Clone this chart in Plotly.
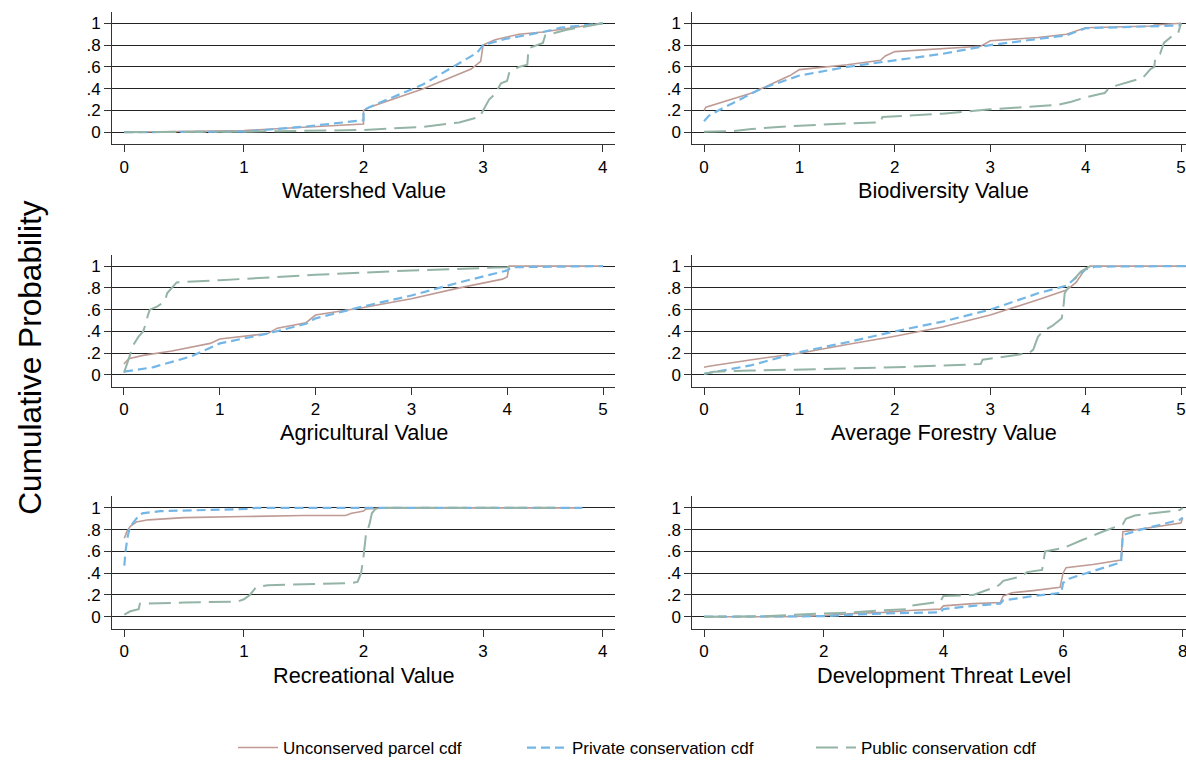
import plotly.graph_objects as go

# ---------------- data ----------------
series_names = ["Unconserved parcel cdf", "Private conservation cdf", "Public conservation cdf"]
panel_titles = ["Watershed Value", "Biodiversity Value", "Agricultural Value",
                "Average Forestry Value", "Recreational Value", "Development Threat Level"]
y_tick_vals = [0, 0.2, 0.4, 0.6, 0.8, 1]
y_tick_text = ["0", ".2", ".4", ".6", ".8", "1"]
x_ticks_0_4 = [0, 1, 2, 3, 4]
x_ticks_0_5 = [0, 1, 2, 3, 4, 5]
x_ticks_0_8 = [0, 2, 4, 6, 8]

# Watershed
ws_unc_x = [0, 1.0, 1.5, 2.0, 2.0, 2.05, 2.5, 2.9, 2.98, 3.0, 3.1, 3.3, 3.5, 3.7, 4.0]
ws_unc_y = [0, 0.015, 0.045, 0.075, 0.2, 0.23, 0.40, 0.58, 0.65, 0.80, 0.85, 0.90, 0.92, 0.95, 1.0]
ws_pri_x = [0, 1.0, 1.5, 2.0, 2.0, 2.05, 2.5, 2.95, 3.0, 3.2, 3.5, 3.65, 4.0]
ws_pri_y = [0, 0.005, 0.05, 0.11, 0.2, 0.23, 0.44, 0.73, 0.80, 0.86, 0.92, 0.96, 1.0]
ws_pub_x = [0, 1.0, 2.0, 2.5, 2.8, 2.97, 3.0, 3.05, 3.1, 3.15, 3.2, 3.22, 3.3, 3.37, 3.38, 3.5, 3.52, 3.7, 4.0]
ws_pub_y = [0, 0.005, 0.02, 0.05, 0.09, 0.14, 0.2, 0.3, 0.35, 0.45, 0.47, 0.55, 0.6, 0.62, 0.77, 0.82, 0.89, 0.94, 1.0]

# Biodiversity
bd_unc_x = [0, 0.02, 0.5, 0.9, 1.0, 1.5, 1.85, 1.9, 2.0, 2.5, 2.9, 3.0, 3.5, 3.8, 4.0, 4.7, 4.72, 5.0]
bd_unc_y = [0.2, 0.23, 0.36, 0.52, 0.575, 0.62, 0.66, 0.70, 0.74, 0.77, 0.79, 0.84, 0.87, 0.90, 0.96, 0.975, 0.985, 1.0]
bd_pri_x = [0, 0.05, 0.15, 0.5, 0.6, 0.9, 1.0, 1.5, 2.0, 2.5, 3.0, 3.5, 3.8, 4.0, 4.98, 5.0]
bd_pri_y = [0.1, 0.15, 0.2, 0.35, 0.4, 0.49, 0.52, 0.60, 0.66, 0.72, 0.80, 0.86, 0.89, 0.955, 0.98, 1.0]
bd_pub_x = [0, 0.3, 0.5, 1.0, 1.5, 1.85, 1.87, 2.5, 3.0, 3.5, 3.7, 3.85, 4.0, 4.15, 4.2, 4.25, 4.4, 4.5,
            4.6, 4.62, 4.68, 4.72, 4.73, 4.78, 4.8, 4.82, 4.9, 4.97, 5.0]
bd_pub_y = [0.005, 0.01, 0.03, 0.06, 0.08, 0.09, 0.14, 0.17, 0.21, 0.24, 0.25, 0.28, 0.32, 0.35, 0.36, 0.41, 0.45, 0.48,
            0.50, 0.52, 0.58, 0.60, 0.69, 0.72, 0.78, 0.82, 0.88, 0.91, 1.0]

# Agricultural
ag_unc_x = [0, 0.05, 0.2, 0.5, 0.9, 1.0, 1.5, 1.6, 1.9, 2.0, 2.5, 3.0, 3.5, 3.95, 4.0, 4.02, 5.0]
ag_unc_y = [0.1, 0.15, 0.18, 0.22, 0.29, 0.33, 0.38, 0.43, 0.48, 0.55, 0.62, 0.70, 0.80, 0.88, 0.90, 1.0, 1.0]
ag_pri_x = [0, 0.3, 0.7, 0.9, 1.0, 1.5, 1.9, 2.0, 2.5, 3.0, 3.5, 4.0, 4.05, 5.0]
ag_pri_y = [0.03, 0.07, 0.17, 0.25, 0.29, 0.38, 0.47, 0.52, 0.63, 0.73, 0.85, 0.96, 0.99, 1.0]
ag_pub_x = [0, 0.03, 0.07, 0.08, 0.15, 0.2, 0.22, 0.25, 0.27, 0.35, 0.43, 0.45, 0.5, 0.55, 1.0, 2.0, 3.0, 3.7, 4.0, 4.05]
ag_pub_y = [0.02, 0.1, 0.2, 0.25, 0.35, 0.4, 0.45, 0.55, 0.6, 0.63, 0.68, 0.75, 0.8, 0.85, 0.87, 0.92, 0.96, 0.98, 0.99, 1.0]

# Average forestry
fo_unc_x = [0, 0.05, 0.5, 1.0, 1.5, 2.0, 2.5, 3.0, 3.5, 3.8, 3.9, 4.0, 4.05, 5.05]
fo_unc_y = [0.07, 0.08, 0.14, 0.20, 0.28, 0.355, 0.44, 0.55, 0.69, 0.78, 0.85, 0.98, 1.0, 1.0]
fo_pri_x = [0, 0.5, 1.0, 1.5, 2.0, 2.5, 3.0, 3.5, 3.8, 4.0, 4.1, 5.05]
fo_pri_y = [0.01, 0.09, 0.21, 0.30, 0.40, 0.49, 0.60, 0.75, 0.82, 0.97, 0.995, 1.0]
fo_pub_x = [0, 0.1, 0.5, 1.0, 2.0, 2.9, 2.92, 3.4, 3.45, 3.5, 3.55, 3.65, 3.75, 3.77, 3.78, 3.85, 3.95, 4.05]
fo_pub_y = [0.01, 0.03, 0.04, 0.05, 0.07, 0.10, 0.14, 0.20, 0.23, 0.35, 0.40, 0.45, 0.52, 0.65, 0.75, 0.85, 0.95, 1.0]

# Recreational
rc_unc_x = [0, 0.02, 0.05, 0.1, 0.2, 0.5, 1.0, 1.5, 1.85, 1.9, 1.95, 2.0, 2.02, 2.2, 3.8]
rc_unc_y = [0.72, 0.78, 0.83, 0.87, 0.89, 0.91, 0.92, 0.93, 0.93, 0.95, 0.96, 0.97, 0.99, 1.0, 1.0]
rc_pri_x = [0, 0.01, 0.03, 0.05, 0.1, 0.15, 0.3, 0.8, 1.05, 1.1, 3.83]
rc_pri_y = [0.47, 0.6, 0.75, 0.83, 0.90, 0.95, 0.97, 0.98, 0.99, 1.0, 1.0]
rc_pub_x = [0, 0.05, 0.12, 0.13, 0.5, 0.95, 1.0, 1.05, 1.1, 1.2, 1.9, 1.95, 1.98, 2.0, 2.02, 2.05, 2.07, 2.1, 2.2, 3.6]
rc_pub_y = [0.02, 0.05, 0.07, 0.12, 0.13, 0.14, 0.16, 0.20, 0.27, 0.29, 0.31, 0.32, 0.40, 0.55, 0.75, 0.85, 0.95, 0.99, 1.0, 1.0]

# Development threat
dt_unc_x = [0, 1.3, 2.0, 2.5, 3.0, 3.5, 3.95, 4.0, 4.5, 4.95, 5.0, 5.15, 5.5, 5.95, 6.0, 6.05, 6.5, 6.97, 7.0, 7.5, 7.97, 8.0]
dt_unc_y = [0, 0.0, 0.01, 0.03, 0.04, 0.06, 0.07, 0.10, 0.12, 0.13, 0.19, 0.22, 0.24, 0.27, 0.40, 0.45, 0.48, 0.52, 0.78, 0.82, 0.86, 0.91]
dt_pri_x = [0, 1.8, 2.0, 2.5, 3.0, 3.95, 4.0, 4.5, 4.95, 5.0, 5.5, 5.97, 6.0, 6.1, 6.5, 6.97, 7.0, 7.3, 7.95, 8.0]
dt_pri_y = [0, 0.0, 0.005, 0.02, 0.03, 0.04, 0.07, 0.10, 0.12, 0.15, 0.19, 0.22, 0.31, 0.35, 0.42, 0.50, 0.75, 0.80, 0.89, 0.91]
dt_pub_x = [0, 1.0, 2.0, 2.5, 3.0, 3.4, 3.45, 3.8, 3.95, 4.0, 4.5, 4.9, 4.95, 5.0, 5.3, 5.4, 5.65, 5.7,
            6.0, 6.3, 6.7, 7.0, 7.05, 7.2, 7.7, 7.95, 8.0]
dt_pub_y = [0, 0.005, 0.03, 0.04, 0.06, 0.07, 0.10, 0.13, 0.14, 0.19, 0.20, 0.28, 0.30, 0.33, 0.37, 0.41, 0.43, 0.60,
            0.63, 0.70, 0.79, 0.85, 0.90, 0.93, 0.96, 0.98, 1.0]

panels = [
    (ws_unc_x, ws_unc_y, ws_pri_x, ws_pri_y, ws_pub_x, ws_pub_y),
    (bd_unc_x, bd_unc_y, bd_pri_x, bd_pri_y, bd_pub_x, bd_pub_y),
    (ag_unc_x, ag_unc_y, ag_pri_x, ag_pri_y, ag_pub_x, ag_pub_y),
    (fo_unc_x, fo_unc_y, fo_pri_x, fo_pri_y, fo_pub_x, fo_pub_y),
    (rc_unc_x, rc_unc_y, rc_pri_x, rc_pri_y, rc_pub_x, rc_pub_y),
    (dt_unc_x, dt_unc_y, dt_pri_x, dt_pri_y, dt_pub_x, dt_pub_y),
]

# ---------------- styling / layout ----------------
W, H = 1186, 766


def px(xw):
    return xw / W


def py(yw):
    return 1 - yw / H


FONT = "Liberation Sans, Arial, Helvetica, sans-serif"
colors = ["#bf9b95", "#74b7e6", "#94b4a6"]
dashes = ["solid", "9px,5px", "22px,8px"]
widths = [1.6, 2.2, 2.0]

col_dom = [(px(112), px(615)), (px(692.3), 1.0)]
row_px = [(12, 145.5), (257, 390.5), (501, 634.5)]
row_dom = [(py(b), py(t)) for (t, b) in row_px]
x_ranges = [(-0.103, 4.103), (-0.123, 5.052), (-0.125, 5.125),
            (-0.123, 5.052), (-0.103, 4.103), (-0.196, 8.055)]
x_tickvals = [x_ticks_0_4, x_ticks_0_5, x_ticks_0_5, x_ticks_0_5, x_ticks_0_4, x_ticks_0_8]
title_cx = [363.5, 943.6, 363.5, 943.6, 363.5, 943.6]
title_cy = [192, 192, 436, 436, 682, 682]

fig = go.Figure()
layout = dict(
    width=W, height=H,
    margin=dict(l=0, r=0, t=0, b=0),
    paper_bgcolor="white", plot_bgcolor="white",
    font=dict(family=FONT, color="black"),
    showlegend=True,
    legend=dict(orientation="h", x=px(233), xanchor="left", y=py(755), yanchor="middle",
                font=dict(size=17, family=FONT), entrywidth=234, entrywidthmode="pixels",
                itemwidth=40, bgcolor="rgba(0,0,0,0)", traceorder="normal"),
    annotations=[],
)

for i, pdata in enumerate(panels):
    r, c = divmod(i, 2)
    ax = "" if i == 0 else str(i + 1)
    for s in range(3):
        fig.add_trace(go.Scatter(
            x=pdata[2 * s], y=pdata[2 * s + 1], mode="lines",
            name=series_names[s], legendgroup=series_names[s], showlegend=(i == 0),
            line=dict(color=colors[s], width=widths[s], dash=dashes[s]),
            xaxis="x" + ax, yaxis="y" + ax, hoverinfo="skip",
        ))
    layout["xaxis" + ax] = dict(
        domain=list(col_dom[c]), anchor="y" + ax, range=list(x_ranges[i]),
        tickmode="array", tickvals=x_tickvals[i], ticks="outside", ticklen=7, tickwidth=1,
        tickcolor="#333", showline=True, linecolor="#333", linewidth=1, showgrid=False,
        zeroline=False, tickfont=dict(size=17, family=FONT, color="black"),
        ticklabeloverflow="allow", fixedrange=True,
    )
    layout["yaxis" + ax] = dict(
        domain=list(row_dom[r]), anchor="x" + ax, range=[-0.11, 1.105],
        tickmode="array", tickvals=y_tick_vals, ticktext=y_tick_text, ticks="outside",
        ticklen=7, tickwidth=1, tickcolor="#333", showline=True, linecolor="#333", linewidth=1,
        showgrid=True, gridcolor="#222", gridwidth=1, zeroline=False,
        tickfont=dict(size=17, family=FONT, color="black"), fixedrange=True,
    )
    layout["annotations"].append(dict(
        text=panel_titles[i], x=px(title_cx[i]), y=py(title_cy[i]), xref="paper", yref="paper",
        xanchor="center", yanchor="middle", showarrow=False,
        font=dict(size=21.7, family=FONT, color="black"),
    ))

layout["annotations"].append(dict(
    text="Cumulative Probability", x=px(30), y=py(361), xref="paper", yref="paper",
    xanchor="center", yanchor="middle", showarrow=False, textangle=-90,
    font=dict(size=31.6, family=FONT, color="black"),
))

fig.update_layout(**layout)
# remove the default page margin so the figure fills the window exactly
fig.write_html("out.html", config={"displayModeBar": False},
               post_script="document.body.style.margin='0';document.body.style.overflow='hidden';")
